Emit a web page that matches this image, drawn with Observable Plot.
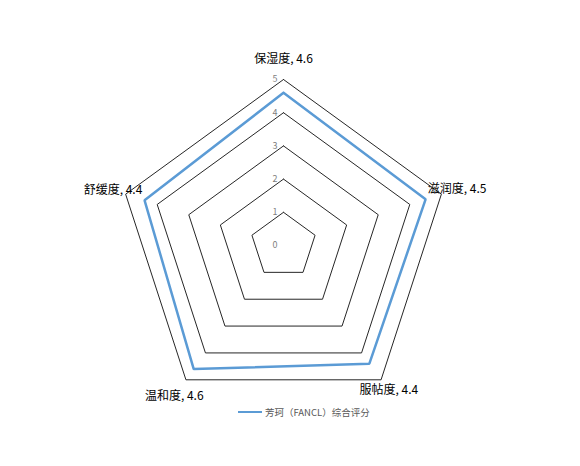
<!DOCTYPE html>
<html><head><meta charset="utf-8">
<script src="https://cdn.jsdelivr.net/npm/d3@7"></script>
<script src="https://cdn.jsdelivr.net/npm/@observablehq/plot@0.6"></script>
<style>
body{margin:0;background:#fff;font-family:"Noto Sans CJK SC","Noto Sans",sans-serif}
#wrap{position:relative;width:580px;height:466px}
#legend{position:absolute;left:238px;top:401px;height:22px;display:flex;align-items:center;font-size:9.5px;color:#595959;white-space:nowrap}
#legend .sw{display:inline-block;width:24px;height:0;border-top:2.5px solid #5B9BD5;margin-right:3px}
</style>
</head><body><div id="wrap"><div id="chart"></div><div id="legend"></div></div>
<script>
const categories = ["保湿度","滋润度","服帖度","温和度","舒缓度"];
const values = [4.6, 4.5, 4.4, 4.6, 4.4];
const seriesName = "芳珂（FANCL）综合评分";
const ticks = [0, 1, 2, 3, 4, 5];

const W = 580, H = 466, cx = 283, cy = 245, unit = 33.2;
const n = categories.length;
const angle = i => Math.PI / 2 - i * 2 * Math.PI / n;
const pt = (i, r) => ({x: r * Math.cos(angle(i)), y: r * Math.sin(angle(i))});
const ring = [...categories.keys(), 0];

const grid = ticks.filter(t => t > 0).flatMap(t => ring.map(i => ({level: t, ...pt(i, t)})));
const series = ring.map(i => pt(i, values[i]));
const labels = categories.map((c, i) => ({text: `${c}, ${values[i]}`, ...pt(i, values[i] + 1)}));
const tickLabels = ticks.map(t => ({text: String(t), ...pt(0, t)}));

const plot = Plot.plot({
  width: W, height: H, margin: 0,
  x: {domain: [-cx / unit, (W - cx) / unit], axis: null},
  y: {domain: [(cy - H) / unit, cy / unit], axis: null},
  style: {fontFamily: '"Noto Sans CJK SC","Noto Sans",sans-serif', background: "#fff"},
  marks: [
    Plot.line(grid, {x: "x", y: "y", z: "level", stroke: "#262626", strokeWidth: 1, strokeLinejoin: "miter"}),
    Plot.text(tickLabels, {x: "x", y: "y", text: "text", textAnchor: "end", dx: -6, fill: "#7f7f7f", fontSize: 9}),
    Plot.line(series, {x: "x", y: "y", stroke: "#5B9BD5", strokeWidth: 2.5, strokeLinejoin: "miter"}),
    Plot.text(labels, {x: "x", y: "y", text: "text", fill: "#000", fontSize: 12})
  ]
});
document.getElementById("chart").appendChild(plot);
const lg = document.getElementById("legend");
const sw = document.createElement("span"); sw.className = "sw";
lg.appendChild(sw);
lg.appendChild(document.createTextNode(seriesName));
</script>
</body></html>
